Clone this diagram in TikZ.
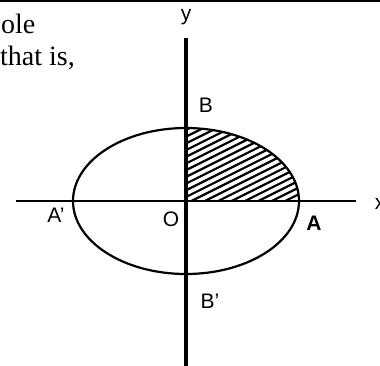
\documentclass[tikz,border=0pt]{standalone}
\usepackage{fontspec}
\setmainfont{Liberation Serif}
\setsansfont{Liberation Sans}
\usetikzlibrary{positioning}
\tikzset{
  xaxis/.style={line width=2pt},
  yaxis/.style={line width=4pt},
  curve/.style={line width=2.2pt},
  hatch/.style={line width=2.2pt},
  plabel/.style={font=\sffamily\fontsize{21}{21}\selectfont, inner sep=0pt},
  ptext/.style={font=\fontsize{28}{32}\selectfont, inner sep=0pt, anchor=base west},
}
\begin{document}
\begin{tikzpicture}[x=1pt, y=-1pt]
  \useasboundingbox (0,0) rectangle (380,365);
  % top rule and cut-off text
  \draw[line width=2.5pt] (0,1) -- (380,1);
  \node[ptext] (ole) at (1,33) {ole};
  \node[ptext] (thatis) at (0,65) {that is,};
  % origin and axis ends
  \coordinate (O) at (186,201);
  \coordinate (xl) at (16,201);
  \coordinate (xr) at (356,201);
  \coordinate (yt) at (186,38);
  \coordinate (yb) at (186,366);
  % hatched quarter
  \begin{scope}
    \clip (O) -- (299,201) arc[start angle=0, end angle=-90,
      x radius=113, y radius=73] -- cycle;
    \foreach \k in {0,...,20}
      \draw[hatch] (186,130+6.7*\k) -- ++(114,-57);
  \end{scope}
  % ellipse and axes
  \draw[curve] (O) ellipse[x radius=113, y radius=73];
  \draw[xaxis] (xl) -- (xr);
  \draw[yaxis] (yt) -- (yb);
  % labels
  \node[plabel] (ly) at (186,17) {y};
  \node[plabel] (lx) at (380,204) {x};
  \node[plabel] (lB) at (206,105) {B};
  \node[plabel] (lBp) at (210,301) {B'};
  \node[plabel] (lAp) at (56,215) {A'};
  \node[plabel] (lO) at (171,219) {O};
  \node[plabel, font=\sffamily\bfseries\fontsize{21}{21}\selectfont] (lA) at (314,223) {A};
\end{tikzpicture}
\end{document}
